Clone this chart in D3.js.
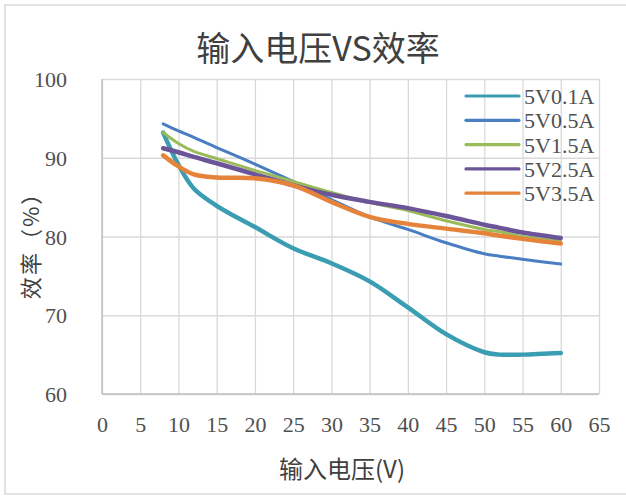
<!DOCTYPE html>
<html>
<head>
<meta charset="utf-8">
<script src="https://cdn.jsdelivr.net/npm/d3@7"></script>
<style>
  html, body { margin: 0; padding: 0; background: #fff; }
  svg { display: block; }
</style>
</head>
<body>
<svg id="chart" width="626" height="496"></svg>
<script>
// Input voltage (V) sample points shared by every series
const voltages = [8, 10, 12, 15, 20, 25, 30, 35, 40, 45, 50, 52, 55, 60];

// Efficiency (%) per output load
const eff_5V0_1A = [93.2, 89.1, 86.1, 83.9, 81.2, 78.5, 76.6, 74.3, 71.0, 67.6, 65.3, 65.0, 65.0, 65.2];
const eff_5V0_5A = [94.3, 93.4, 92.6, 91.3, 89.2, 87.0, 84.7, 82.5, 80.9, 79.2, 77.8, 77.5, 77.1, 76.5];
const eff_5V1_5A = [93.2, 91.8, 90.8, 89.9, 88.4, 87.0, 85.6, 84.3, 83.3, 82.0, 80.9, 80.6, 80.0, 79.4];
const eff_5V2_5A = [91.2, 90.7, 90.1, 89.3, 87.9, 86.5, 85.3, 84.4, 83.6, 82.6, 81.5, 81.1, 80.5, 79.8];
const eff_5V3_5A = [90.3, 88.9, 87.9, 87.5, 87.4, 86.5, 84.4, 82.5, 81.6, 81.0, 80.4, 80.1, 79.7, 79.1];

const seriesNames = ["5V0.1A", "5V0.5A", "5V1.5A", "5V2.5A", "5V3.5A"];
const seriesValues = [eff_5V0_1A, eff_5V0_5A, eff_5V1_5A, eff_5V2_5A, eff_5V3_5A];

// Axis ticks and labels
const xTicks = [0, 5, 10, 15, 20, 25, 30, 35, 40, 45, 50, 55, 60, 65];
const yTicks = [60, 70, 80, 90, 100];
const titleText = "输入电压VS效率";
const xLabel = "输入电压(V)";
const yLabel = "效率（%）";

// Styling
const colors = ["#3b9db2", "#4a7ec3", "#9bbb59", "#6c5499", "#e6833a"];
const widths = [4.5, 3, 3, 4.5, 4.5];

const svg = d3.select("#chart");

// Outer chart frame
svg.append("rect")
  .attr("x", 5).attr("y", 5).attr("width", 640).attr("height", 489)
  .attr("fill", "#fff").attr("stroke", "#d9d9d9").attr("stroke-width", 1.5);

const plot = { left: 102, right: 599, top: 79, bottom: 394 };

const x = d3.scaleLinear().domain([0, 65]).range([plot.left, plot.right]);
const y = d3.scaleLinear().domain([60, 100]).range([plot.bottom, plot.top]);

// Gridlines
svg.append("g")
  .attr("transform", `translate(0,${plot.bottom})`)
  .call(d3.axisBottom(x).tickValues(xTicks).tickSize(-(plot.bottom - plot.top)).tickFormat(""))
  .call(g => g.select(".domain").remove())
  .call(g => g.selectAll("line").attr("stroke", "#d9d9d9").attr("stroke-width", 1.3));

svg.append("g")
  .attr("transform", `translate(${plot.left},0)`)
  .call(d3.axisLeft(y).tickValues(yTicks).tickSize(-(plot.right - plot.left)).tickFormat(""))
  .call(g => g.select(".domain").remove())
  .call(g => g.selectAll("line").attr("stroke", "#d9d9d9").attr("stroke-width", 1.3));

// Axis lines
svg.append("line")
  .attr("x1", plot.left).attr("x2", plot.left)
  .attr("y1", plot.top).attr("y2", plot.bottom)
  .attr("stroke", "#bfbfbf").attr("stroke-width", 1.5);
svg.append("line")
  .attr("x1", plot.left).attr("x2", plot.right)
  .attr("y1", plot.bottom).attr("y2", plot.bottom)
  .attr("stroke", "#bfbfbf").attr("stroke-width", 1.5);

// Tick labels
const tickFont = "'Liberation Serif', 'DejaVu Serif', serif";
const textColor = "#505050";
svg.append("g")
  .attr("transform", `translate(0,${plot.bottom})`)
  .call(d3.axisBottom(x).tickValues(xTicks).tickSize(0).tickFormat(d3.format("d")))
  .call(g => g.select(".domain").remove())
  .call(g => g.selectAll("text")
    .attr("y", 38).attr("dy", 0)
    .attr("fill", textColor)
    .style("font-family", tickFont).style("font-size", "22px"));

svg.append("g")
  .attr("transform", `translate(${plot.left},0)`)
  .call(d3.axisLeft(y).tickValues(yTicks).tickSize(0).tickFormat(d3.format("d")))
  .call(g => g.select(".domain").remove())
  .call(g => g.selectAll("text")
    .attr("x", -35).attr("dy", "0.35em")
    .attr("fill", textColor)
    .style("font-family", tickFont).style("font-size", "22px"));

// Series lines
const line = d3.line()
  .x((d, i) => x(voltages[i]))
  .y(d => y(d))
  .curve(d3.curveCatmullRom.alpha(0.5));

svg.append("g")
  .selectAll("path")
  .data(seriesValues)
  .join("path")
  .attr("d", d => line(d))
  .attr("fill", "none")
  .attr("stroke", (d, i) => colors[i])
  .attr("stroke-width", (d, i) => widths[i])
  .attr("stroke-linecap", "round")
  .attr("stroke-linejoin", "round");

// Legend
const legend = svg.append("g").attr("transform", "translate(466,96)");
const rows = legend.selectAll("g")
  .data(seriesNames)
  .join("g")
  .attr("transform", (d, i) => `translate(0,${i * 24.3})`);
rows.append("line")
  .attr("x1", 0).attr("x2", 53).attr("y1", 0).attr("y2", 0)
  .attr("stroke", (d, i) => colors[i])
  .attr("stroke-width", 3.2)
  .attr("stroke-linecap", "round");
rows.append("text")
  .attr("x", 58).attr("y", 0).attr("dy", "0.36em")
  .attr("fill", textColor)
  .style("font-family", tickFont).style("font-size", "22px")
  .text(d => d);

// Title
svg.append("text")
  .attr("x", 318).attr("y", 61)
  .attr("text-anchor", "middle")
  .attr("fill", "#404040")
  .style("font-family", "'Noto Sans CJK SC', sans-serif")
  .style("font-size", "34px")
  .text(titleText);

// Axis titles
svg.append("text")
  .attr("x", 342).attr("y", 478)
  .attr("text-anchor", "middle")
  .attr("fill", "#404040")
  .style("font-family", "'Noto Sans CJK SC', sans-serif")
  .style("font-size", "24px")
  .text(xLabel);

svg.append("text")
  .attr("transform", "translate(39,240) rotate(-90)")
  .attr("text-anchor", "middle")
  .attr("fill", "#404040")
  .style("font-family", "'Noto Sans CJK SC', sans-serif")
  .style("font-size", "22px")
  .style("letter-spacing", "2px")
  .text(yLabel);
</script>
</body>
</html>
